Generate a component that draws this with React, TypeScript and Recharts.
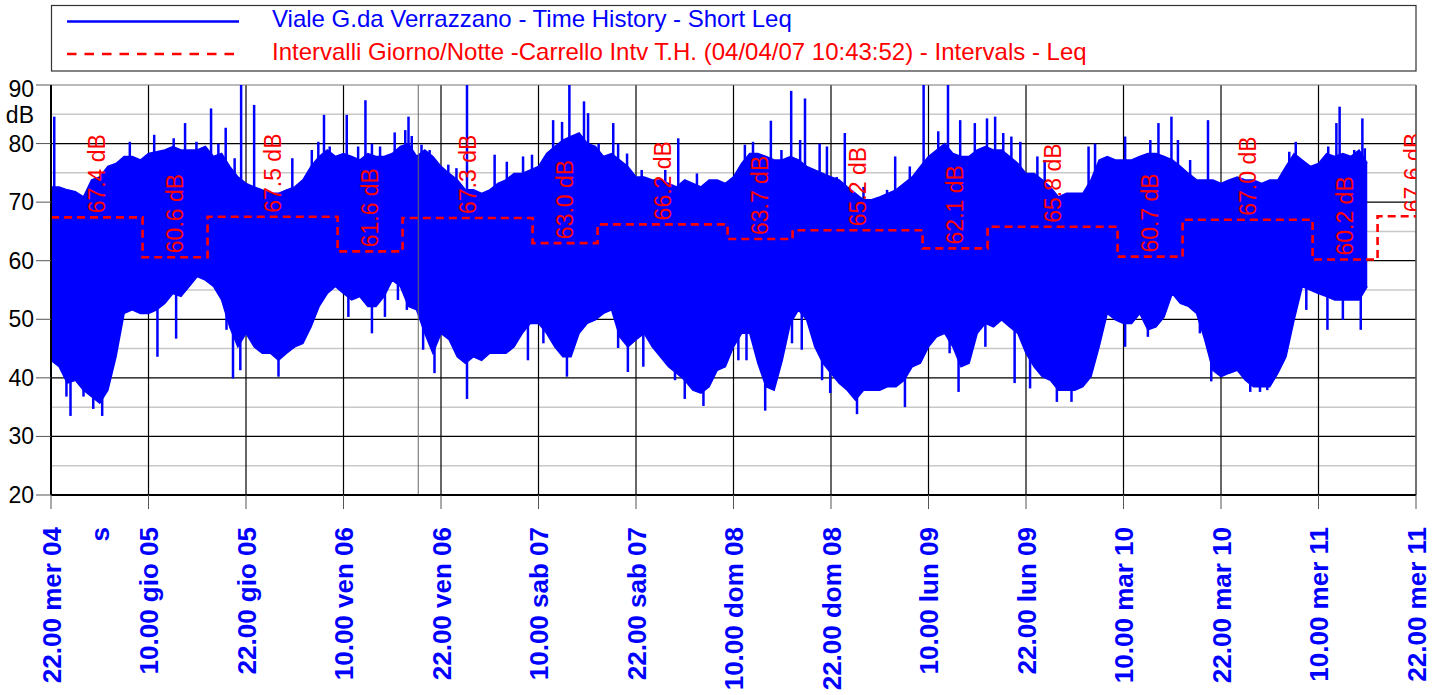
import {ComposedChart, Area, Line, Scatter, XAxis, YAxis, CartesianGrid, ReferenceLine} from "recharts";

// hours since start of measurement, one tick every 12 h
const xTicks = [0, 12, 24, 36, 48, 60, 72, 84, 96, 108, 120, 132, 144, 156, 168];
const xTickLabels = [
    "22.00 mer 04", "10.00 gio 05", "22.00 gio 05", "10.00 ven 06", "22.00 ven 06",
    "10.00 sab 07", "22.00 sab 07", "10.00 dom 08", "22.00 dom 08", "10.00 lun 09",
    "22.00 lun 09", "10.00 mar 10", "22.00 mar 10", "10.00 mer 11", "22.00 mer 11",
];
const yTicks = [20, 30, 40, 50, 60, 70, 80, 90];
const yMajorGrid = [30, 40, 50, 60, 70, 80];
const yMinorGrid = [25, 35, 45, 55, 65, 75, 85];

// short Leq envelope, one value per hour (upper / lower edge of the trace)
const hourlyMax = [
    72.6, 72.6, 72.1, 71.8, 70.9, 73.8, 74.3, 76.1, 76.6, 77.8,
    77.8, 77.2, 78.3, 78.6, 78.9, 79.5, 78.9, 78.9, 78.9, 79.5,
    77.8, 78.3, 76.1, 74.3, 73.2, 72.6, 72.1, 71.5, 71.5, 72.1,
    72.6, 73.8, 76.1, 77.8, 78.9, 77.8, 78.3, 77.8, 77.2, 78.3,
    77.8, 77.8, 78.3, 79.5, 80.0, 77.8, 78.9, 77.8, 76.1, 74.9,
    73.8, 72.1, 72.1, 71.5, 72.1, 73.2, 73.8, 74.9, 74.9, 75.5,
    76.1, 78.3, 79.5, 80.6, 81.2, 81.8, 80.0, 79.5, 77.8, 78.3,
    77.2, 76.1, 74.3, 74.3, 73.8, 73.8, 73.2, 72.6, 73.8, 73.2,
    72.6, 73.8, 73.8, 73.2, 74.3, 76.6, 78.3, 78.3, 77.8, 77.2,
    77.2, 77.8, 77.2, 76.1, 75.5, 74.9, 74.3, 73.8, 72.6, 71.5,
    70.4, 70.4, 70.9, 71.5, 72.1, 73.2, 74.3, 76.1, 77.8, 78.9,
    80.0, 78.3, 77.8, 77.8, 78.9, 79.5, 78.9, 78.9, 77.8, 76.6,
    74.9, 74.9, 73.8, 72.6, 70.9, 71.5, 71.5, 71.5, 73.8, 77.2,
    77.8, 77.2, 77.2, 77.2, 77.8, 78.3, 78.3, 77.8, 77.2, 76.1,
    74.9, 73.8, 73.8, 73.8, 73.2, 73.8, 74.3, 73.8, 73.8, 73.2,
    73.8, 73.8, 76.1, 78.3, 77.2, 76.1, 76.6, 78.3, 77.8, 78.3,
    77.8, 78.9, 76.6,
];
const hourlyMin = [
    43.0, 41.9, 39.1, 39.6, 37.9, 36.8, 35.7, 37.9, 43.6, 51.0,
    51.6, 51.0, 51.0, 51.6, 52.7, 54.4, 53.9, 55.6, 57.3, 56.7,
    55.6, 53.3, 48.7, 45.3, 47.6, 45.3, 44.2, 44.2, 43.0, 44.2,
    45.3, 45.9, 48.7, 52.2, 54.4, 55.6, 54.4, 53.3, 53.9, 52.2,
    52.2, 53.9, 56.7, 55.6, 52.2, 51.6, 47.6, 44.2, 47.6, 46.5,
    43.6, 42.5, 43.6, 43.0, 44.2, 44.2, 44.2, 45.3, 47.6, 49.3,
    49.3, 47.6, 45.3, 43.6, 43.6, 47.6, 49.3, 49.9, 51.0, 51.6,
    47.0, 45.3, 46.5, 47.6, 45.3, 43.6, 41.9, 40.8, 39.6, 37.9,
    37.4, 38.5, 41.3, 41.9, 45.3, 47.6, 47.6, 42.5, 38.5, 37.9,
    43.0, 49.3, 51.6, 49.9, 45.3, 42.5, 40.8, 39.1, 37.9, 36.2,
    37.9, 37.9, 37.9, 38.5, 38.5, 39.6, 41.9, 42.5, 45.3, 47.0,
    47.6, 45.3, 41.9, 42.5, 47.6, 49.3, 48.7, 49.9, 48.7, 47.6,
    44.2, 41.9, 40.2, 39.6, 37.9, 37.9, 37.9, 38.5, 40.2, 45.3,
    51.0, 49.9, 49.3, 49.3, 51.0, 48.2, 48.7, 50.4, 54.4, 52.7,
    52.2, 51.0, 46.5, 41.3, 40.2, 40.8, 41.3, 39.6, 38.5, 38.5,
    38.5, 40.8, 43.6, 49.9, 55.6, 55.0, 54.4, 53.9, 53.3, 53.3,
    53.3, 53.3, 55.6,
];

// isolated peaks / dips sticking out of the trace
const peakHours = [
    0.4, 9.7, 12.7, 15.1, 16.5, 17.9, 19.7, 20.6, 21.5, 22.6, 23.4, 25.0, 29.7, 32.1, 32.9,
    33.6, 34.3, 36.4, 37.8, 38.7, 39.5, 40.5, 42.3, 43.6, 44.0, 44.4, 45.6, 46.6, 48.9, 49.9,
    51.2, 54.6, 56.1, 58.1, 59.2, 60.8, 61.8, 62.9, 63.8, 65.6, 66.1, 67.4, 69.2, 69.8, 70.9,
    72.7, 75.6, 77.2, 79.5, 84.6, 85.4, 86.4, 88.6, 89.9, 91.1, 92.2, 92.8, 94.6, 95.5, 96.7,
    97.7, 100.0, 102.9, 103.9, 105.7, 107.4, 109.2, 110.4, 111.9, 113.7, 115.2, 116.2, 117.2, 118.2, 119.3,
    121.4, 122.3, 127.7, 128.5, 132.2, 135.3, 136.3, 137.9, 138.7, 140.2, 142.4, 152.4, 153.2, 157.2, 158.2,
    158.6, 160.4, 161.4, 161.7,
];
const peakValues = [
    84.6, 80.3, 81.5, 80.9, 83.5, 80.3, 86.0, 80.0, 82.7, 77.5, 90.0, 86.6, 77.5, 78.9, 80.3,
    84.9, 79.5, 84.9, 79.5, 87.4, 80.0, 79.5, 81.9, 82.3, 84.6, 81.3, 79.8, 78.9, 76.4, 75.8,
    90.0, 78.1, 76.9, 77.8, 78.1, 77.2, 84.0, 83.7, 90.0, 87.2, 85.2, 80.0, 83.5, 80.0, 78.3,
    75.5, 75.5, 80.9, 74.9, 75.5, 79.8, 80.3, 83.9, 78.9, 89.0, 80.6, 87.7, 80.0, 79.5, 74.3,
    81.8, 72.6, 72.1, 77.8, 76.1, 90.0, 82.1, 90.0, 84.0, 83.5, 84.3, 84.6, 81.8, 81.2, 80.3,
    77.8, 77.2, 79.5, 80.0, 81.2, 80.6, 83.5, 84.6, 80.6, 77.2, 84.0, 78.6, 80.3, 79.5, 83.5,
    86.3, 78.9, 84.3, 79.2,
];
const dipHours = [
    1.9, 2.4, 4.0, 5.2, 6.3, 13.1, 15.4, 21.6, 22.4, 23.3, 28.0, 36.6, 39.5, 41.1, 42.7,
    43.8, 45.8, 47.2, 51.2, 58.7, 60.6, 63.5, 69.8, 71.0, 72.9, 76.8, 78.0, 80.3, 84.6, 85.6,
    87.9, 91.2, 92.4, 94.9, 95.9, 99.2, 105.1, 110.6, 111.7, 115.0, 118.6, 120.5, 123.8, 125.6, 132.2,
    135.0, 141.4, 142.8, 147.6, 148.8, 149.7, 150.6, 154.5, 157.1, 159.0, 161.2,
];
const dipValues = [
    36.8, 33.5, 36.8, 34.7, 33.5, 43.6, 46.7, 48.2, 39.9, 41.3, 40.2, 50.4, 47.6, 50.4, 53.3,
    51.6, 44.8, 40.8, 36.4, 43.0, 45.9, 40.2, 45.1, 41.0, 41.9, 39.6, 36.4, 35.2, 43.0, 43.0,
    34.4, 45.9, 44.8, 39.6, 37.4, 33.8, 35.0, 44.2, 37.6, 45.3, 39.1, 38.2, 35.9, 35.9, 45.3,
    47.0, 47.6, 39.4, 37.6, 37.6, 37.9, 40.2, 51.6, 48.2, 49.9, 48.2,
];

// day / night intervals
const intervalStarts = [0, 11.27, 19.27, 35.27, 43.27, 59.27, 67.27, 83.27, 91.27, 107.27, 115.27, 131.27, 139.27, 155.27, 163.27];
const intervalEnd = 172;
const intervalLeq = [67.4, 60.6, 67.5, 61.6, 67.3, 63.0, 66.2, 63.7, 65.2, 62.1, 65.8, 60.7, 67.0, 60.2, 67.6];

const markerHour = 45.2;

const historyData = hourlyMax.map((hi, i) => ({t: i, range: [hourlyMin[i], hi]}));
const stepData = [
    ...intervalStarts.map((t, i) => ({t, leq: intervalLeq[i]})),
    {t: intervalEnd, leq: intervalLeq[intervalLeq.length - 1]},
];
const labelData = intervalStarts.map((t, i) => ({
    t: (t + (intervalStarts[i + 1] ?? intervalEnd)) / 2,
    leq: intervalLeq[i],
}));

const FONT = "'Liberation Sans', Arial, sans-serif";
const BLUE = "#0000ff";
const RED = "#ff0000";

const XTick = (props: any) => {
    const {x, y, payload} = props;
    const label = xTickLabels[xTicks.indexOf(payload.value)];
    const px = x + 9.5;
    return (
        <text x={px} y={y} transform={`rotate(-90 ${px} ${y})`} textAnchor="end"
              fill={BLUE} fontWeight="bold" fontSize={26} fontFamily={FONT}>{label}</text>
    );
};

const YTick = (props: any) => {
    const {x, y, payload} = props;
    const top = payload.value === 90;
    return (
        <g>
            <text x={x} y={y + (top ? 12 : 8)} textAnchor="end" fill="#000" fontSize={23} fontFamily={FONT}>
                {payload.value}
            </text>
            {top && <text x={x} y={y + 38} textAnchor="end" fill="#000" fontSize={23} fontFamily={FONT}>dB</text>}
        </g>
    );
};

const LeqLabel = (props: any) => {
    const {cx, cy, payload} = props;
    const px = cx + 8.2;
    const py = cy - 4;
    return (
        <text x={px} y={py} transform={`rotate(-90 ${px} ${py})`} textAnchor="start"
              fill={RED} fontSize={23} fontFamily={FONT}>{`${payload.leq.toFixed(1)} dB`}</text>
    );
};

const nearest = (arr: number[], t: number) => arr[Math.min(arr.length - 1, Math.round(t))];

const App = () => {
    return (
        <div style={{position: "absolute", left: 0, top: 0, width: 1440, height: 695, background: "#fff"}}>
            <div style={{position: "absolute", left: 0, top: 0}}>
                <ComposedChart width={1440} height={695} data={historyData}
                               margin={{top: 85, right: 24, left: 0, bottom: 0}}>
                    <CartesianGrid horizontal={true} vertical={false} horizontalValues={yMinorGrid}
                                   stroke="#c8c8c8" strokeWidth={1.5}/>
                    <CartesianGrid horizontalValues={yMajorGrid} verticalValues={xTicks}
                                   stroke="#000" strokeWidth={1.2}/>
                    <XAxis dataKey="t" type="number" domain={[0, 168]} ticks={xTicks} allowDataOverflow
                           interval={0} height={200} tickSize={14} tickMargin={18} tick={<XTick/>}
                           axisLine={{stroke: "#000", strokeWidth: 2}} tickLine={{stroke: "#555"}}/>
                    <YAxis type="number" domain={[20, 90]} ticks={yTicks} allowDataOverflow width={51}
                           interval={0} tickSize={15} tickMargin={2} tick={<YTick/>}
                           axisLine={{stroke: "#000", strokeWidth: 2}} tickLine={{stroke: "#555"}}/>
                    <ReferenceLine y={90} stroke="#777" strokeWidth={1.2}/>
                    <ReferenceLine x={168} stroke="#777" strokeWidth={1.2}/>
                    <Area dataKey="range" type="linear" stroke={BLUE} strokeWidth={1.5} fill={BLUE}
                          fillOpacity={1} dot={false} activeDot={false} isAnimationActive={false}/>
                    {peakHours.map((t, i) => (
                        <ReferenceLine key={`p${i}`} stroke={BLUE} strokeWidth={2.5}
                                       segment={[{x: t, y: nearest(hourlyMax, t) - 3}, {x: t, y: peakValues[i]}]}/>
                    ))}
                    {dipHours.map((t, i) => (
                        <ReferenceLine key={`d${i}`} stroke={BLUE} strokeWidth={2.5}
                                       segment={[{x: t, y: nearest(hourlyMin, t) + 3}, {x: t, y: dipValues[i]}]}/>
                    ))}
                    <ReferenceLine x={markerHour} stroke="#666" strokeWidth={1}/>
                    <Line data={stepData} dataKey="leq" type="stepAfter" stroke={RED} strokeWidth={2.6}
                          strokeDasharray="8 5" dot={false} activeDot={false} isAnimationActive={false}/>
                    <Scatter data={labelData} dataKey="leq" shape={<LeqLabel/>} isAnimationActive={false}/>
                </ComposedChart>
            </div>
            <svg width={1440} height={695} style={{position: "absolute", left: 0, top: 0, pointerEvents: "none"}}>
                <rect x={51.5} y={5.5} width={1364.5} height={65.5} fill="none" stroke="#333" strokeWidth={1.2}/>
                <line x1={67} x2={239} y1={21.5} y2={21.5} stroke={BLUE} strokeWidth={2.7}/>
                <text x={272} y={27} fill={BLUE} fontSize={24} fontFamily={FONT}>
                    Viale G.da Verrazzano - Time History - Short Leq
                </text>
                <line x1={67} x2={239} y1={54} y2={54} stroke={RED} strokeWidth={2.7} strokeDasharray="9.5 8"/>
                <text x={272} y={60} fill={RED} fontSize={24} fontFamily={FONT}>
                    Intervalli Giorno/Notte -Carrello Intv T.H. (04/04/07 10:43:52) - Intervals - Leq
                </text>
                <text x={108.5} y={527} transform="rotate(-90 108.5 527)" textAnchor="end"
                      fill={BLUE} fontWeight="bold" fontSize={26} fontFamily={FONT}>s</text>
            </svg>
        </div>
    );
};

export default App;
